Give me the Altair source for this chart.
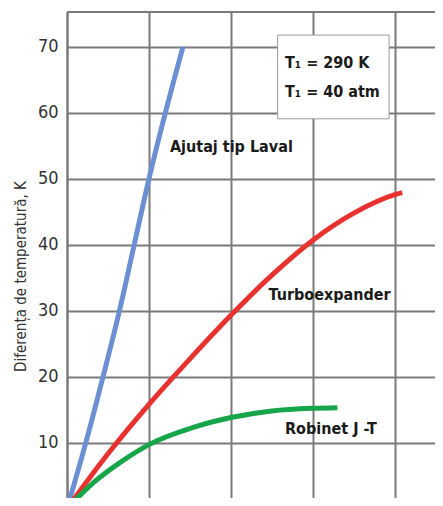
import altair as alt
import pandas as pd

# Data
laval_x = [0, 0.23, 0.44, 0.64, 0.82, 1.0, 1.2, 1.415]
laval_y = [0, 10, 20, 30, 40, 50, 60, 70]
turbo_x = [0, 0.5, 1.0, 1.5, 2.0, 2.5, 3.0, 3.5, 4.0, 4.09]
turbo_y = [0, 8.3, 15.8, 22.7, 29.3, 35.4, 40.7, 44.8, 47.6, 47.9]
jt_x = [0, 0.32, 0.65, 1.0, 1.54, 2.0, 2.5, 3.0, 3.3]
jt_y = [0, 3.9, 7.0, 9.7, 12.3, 13.8, 14.8, 15.2, 15.3]

series_names = ["Ajutaj tip Laval", "Turboexpander", "Robinet J -T"]
series_colors = ["#6b8fd2", "#e8322f", "#17a54a"]

y_ticks = [0, 10, 20, 30, 40, 50, 60, 70]
x_ticks = [0, 1, 2, 3, 4]

label_texts = ["Ajutaj tip Laval", "Turboexpander", "Robinet J -T"]
label_x = [1.256, 2.46, 2.66]
label_y = [54.8, 32.4, 12.0]

box_lines = ["T\u2081 = 290 K", "T\u2081 = 40 atm"]
box_line_x = [2.66, 2.66]
box_line_y = [67.6, 63.2]
box_x = [2.57]
box_x2 = [3.93]
box_y = [71.8]
box_y2 = [59.1]

X_DOM = [0, 4.49]
Y_DOM = [1.6, 75.3]

rows = []
for name, xs, ys in zip(series_names, [laval_x, turbo_x, jt_x], [laval_y, turbo_y, jt_y]):
    for i, (a, b) in enumerate(zip(xs, ys)):
        rows.append({"series": name, "x": a, "y": b, "o": i})
df = pd.DataFrame(rows)

FONT = "DejaVu Sans Condensed"

xs = alt.Scale(domain=X_DOM, nice=False, zero=False)
ys = alt.Scale(domain=Y_DOM, nice=False, zero=False)

x_enc = alt.X("x:Q", scale=xs, axis=alt.Axis(values=x_ticks, labels=False, ticks=False,
              domain=False, grid=True, gridColor="#7a7a7a", gridWidth=2, gridOpacity=1, title=None))
y_enc = alt.Y("y:Q", scale=ys, axis=alt.Axis(values=y_ticks, ticks=False, grid=True,
              gridColor="#7a7a7a", gridWidth=2, gridOpacity=1, domain=True, domainColor="#7a7a7a",
              domainWidth=2, labelFont=FONT, labelFontSize=18, labelColor="#333333",
              labelPadding=9, title="Diferența de temperatură, K", titleFont=FONT,
              titleFontSize=15, titleFontWeight="normal", titleColor="#333333",
              titleX=-47, titleY=264, titleBaseline="middle"))

lines = alt.Chart(df).mark_line(strokeWidth=5, interpolate="monotone", clip=True).encode(
    x=x_enc, y=y_enc, order="o:Q",
    color=alt.Color("series:N", scale=alt.Scale(domain=series_names, range=series_colors), legend=None),
)

top = alt.Chart(pd.DataFrame({"y": [Y_DOM[1]]})).mark_rule(color="#7a7a7a", strokeWidth=2).encode(
    y=alt.Y("y:Q", scale=ys)
)

box = alt.Chart(pd.DataFrame({"x": box_x, "x2": box_x2, "y": box_y, "y2": box_y2})).mark_rect(
    fill="white", stroke="#9a9a9a", strokeWidth=1
).encode(x=alt.X("x:Q", scale=xs), x2="x2:Q", y=alt.Y("y:Q", scale=ys), y2="y2:Q")

box_text = alt.Chart(pd.DataFrame({"t": box_lines, "x": box_line_x, "y": box_line_y})).mark_text(
    align="left", baseline="middle", font=FONT, fontSize=16, fontWeight="bold", color="#1a1a1a"
).encode(x=alt.X("x:Q", scale=xs), y=alt.Y("y:Q", scale=ys), text="t:N")

labels = alt.Chart(pd.DataFrame({"t": label_texts, "x": label_x, "y": label_y})).mark_text(
    align="left", baseline="middle", font=FONT, fontSize=16, fontWeight="bold", color="#1a1a1a"
).encode(x=alt.X("x:Q", scale=xs), y=alt.Y("y:Q", scale=ys), text="t:N")

chart = alt.layer(lines, top, box, box_text, labels).properties(
    width=368, height=486,
    autosize=alt.AutoSizeParams(type="none"),
    padding={"left": 59, "top": 4, "right": 0, "bottom": 0},
).configure_view(stroke=None).configure(background="white")

chart.save("out.html", embed_options={"renderer": "svg", "actions": False})
